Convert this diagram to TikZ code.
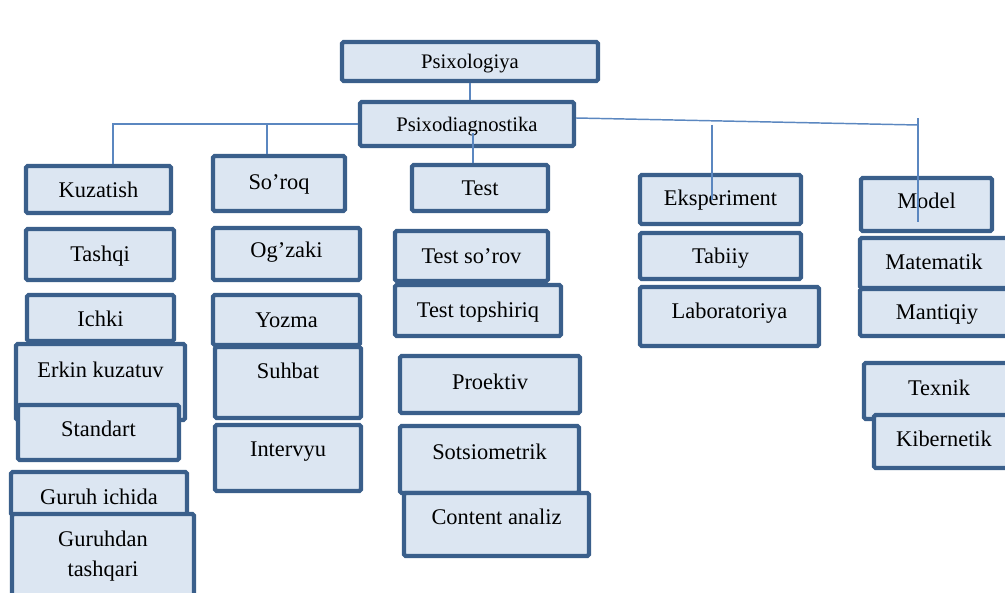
\documentclass[tikz,border=0pt]{standalone}
\usepackage{fontspec}
\setmainfont{Liberation Serif}
\definecolor{bdr}{HTML}{3A5F8B}
\definecolor{fil}{HTML}{DCE6F2}
\definecolor{ln}{HTML}{5B87C0}
\tikzset{
 box/.style={draw=bdr, fill=fil, line width=3.2pt, rounded corners=1.2pt, inner sep=0pt},
 lbl/.style={font=\fontsize{16.8}{21.8}\selectfont, inner sep=0pt, anchor=base, align=center},
 conn/.style={draw=ln, line width=1.1pt},
}
\newcommand\bx[7]{%
 \node[box, minimum width={(#4-#2-4)*0.75pt}, minimum height={(#5-#3-4)*0.75pt}] (#1) at ({(#2+#4)/2},{(#3+#5)/2}) {};
 \node[lbl] (#1-t) at ({(#2+#4)/2},{#6+7}) {#7};}
\begin{document}
\begin{tikzpicture}[x=0.75pt,y=-0.75pt]
\useasboundingbox (0,0) rectangle (1005,592);
\clip (0,0) rectangle (1005,592);
% top
\bx{psi}{340}{40}{600}{83}{62}{\fontsize{15.5}{18}\selectfont Psixologiya}
\bx{pd}{358}{100}{576}{148}{124}{\fontsize{15.5}{18}\selectfont Psixodiagnostika}
% column 1
\bx{kuz}{24}{164}{173}{215}{190}{Kuzatish}
\bx{tas}{24}{227}{176}{282}{254}{Tashqi}
\bx{ich}{25}{293}{176}{343}{319}{Ichki}
\bx{erk}{14}{342}{187}{422}{370}{Erkin kuzatuv}
\bx{std}{16}{403}{181}{462}{429}{Standart}
\bx{gic}{9}{470}{189}{517}{497}{Guruh ichida}
\bx{gta}{10}{512}{196}{604}{569}{Guruhdan\\tashqari}
% column 2
\bx{sor}{211}{154}{347}{213}{182}{So’roq}
\bx{ogz}{211}{226}{362}{282}{250}{Og’zaki}
\bx{yoz}{211}{293}{362}{347}{320}{Yozma}
\bx{suh}{213}{345}{363}{420}{371}{Suhbat}
\bx{int}{213}{423}{363}{493}{449}{Intervyu}
% column 3
\bx{test}{410}{163}{550}{213}{188}{Test}
\bx{tso}{393}{229}{550}{283}{256}{Test so’rov}
\bx{ttp}{393}{283}{563}{338}{310}{Test topshiriq}
\bx{pro}{398}{354}{582}{415}{382}{Proektiv}
\bx{sot}{398}{424}{581}{495}{452}{Sotsiometrik}
\bx{con}{402}{491}{591}{558}{517}{Content analiz}
% column 4
\bx{eks}{638}{173}{803}{226}{198}{Eksperiment}
\bx{tab}{638}{231}{803}{281}{256}{Tabiiy}
\bx{lab}{638}{285}{821}{348}{311}{Laboratoriya}
% column 5
\bx{mod}{859}{176}{994}{233}{201}{Model}
\bx{mat}{858}{236}{1010}{290}{262}{Matematik}
\bx{man}{858}{287}{1016}{338}{312}{Mantiqiy}
\bx{tex}{862}{361}{1016}{421}{388}{Texnik}
\bx{kib}{872}{413}{1016}{470}{439}{Kibernetik}
% connectors
\coordinate (hL) at (113,124);
\coordinate (hS) at (267,124);
\coordinate (hR) at (918,125);
\coordinate (hE) at (712,124.5);
\coordinate (mT) at (918,118);
\coordinate (mE) at (918,222);
\coordinate (eE) at (712,200);
\coordinate (tT) at (473,133);
\draw[conn] (pd.west) -- (hL) -- (hL |- kuz.north);
\draw[conn] (hS) -- (hS |- sor.north);
\draw[conn] ([yshift=4.5pt]pd.east) -- (hR);
\draw[conn] (mT) -- (mod.north -| mT) -- (mE);
\draw[conn] (hE) -- (eks.north -| hE) -- (eE);
\draw[conn] (psi.south) -- (psi.south |- pd.north);
\draw[conn] (tT) -- (tT |- test.north);
\end{tikzpicture}
\end{document}
